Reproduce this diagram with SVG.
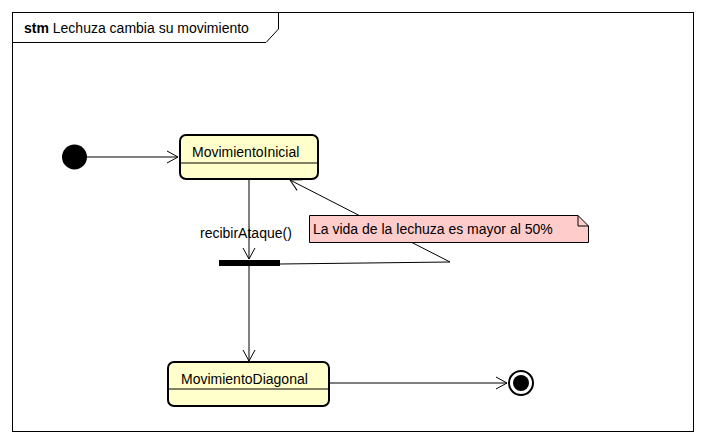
<svg xmlns="http://www.w3.org/2000/svg" width="706" height="444" viewBox="0 0 706 444">
<style>
text{font-family:"Liberation Sans",Arial,sans-serif;font-size:14px;fill:#000}
.st{fill:#ffffcc;stroke:#000;stroke-width:2}
.ln{stroke:#000;stroke-width:1;fill:none}
</style>
<defs>
<marker id="open" markerWidth="14" markerHeight="14" refX="12" refY="7" orient="auto" markerUnits="userSpaceOnUse">
<path d="M1,1 L12,7 L1,13" fill="none" stroke="#000" stroke-width="1"/>
</marker>
</defs>
<rect width="706" height="444" fill="#fff"/>
<g id="frame">
<rect x="12.5" y="12.5" width="681" height="419" fill="none" stroke="#000"/>
<path d="M12.5,42.5 H266 L278.5,29 V12.5" fill="none" stroke="#000"/>
<text x="24" y="33"><tspan font-weight="bold">stm</tspan> Lechuza cambia su movimiento</text>
</g>
<g id="connectors">
<line class="ln" x1="87" y1="157" x2="178" y2="157" marker-end="url(#open)"/>
<line class="ln" x1="249" y1="180" x2="249" y2="259" marker-end="url(#open)"/>
<line class="ln" x1="249" y1="266" x2="249" y2="361" marker-end="url(#open)"/>
<polyline class="ln" points="280,264 450,262 290,180" marker-end="url(#open)"/>
<line class="ln" x1="330" y1="383" x2="507" y2="383" marker-end="url(#open)"/>
<text x="200" y="238">recibirAtaque()</text>
</g>
<g id="initial">
<circle cx="74.5" cy="157" r="12.5" fill="#000"/>
</g>
<g id="movimientoInicial">
<rect class="st" x="180" y="135" width="138" height="44" rx="6"/>
<line class="ln" x1="180" y1="163" x2="318" y2="163"/>
<text x="192" y="157">MovimientoInicial</text>
</g>
<g id="fork">
<rect x="219" y="260" width="61" height="6" fill="#000"/>
</g>
<g id="note">
<path d="M309.5,215.5 H578 L588.5,226 V242.5 H309.5 Z" fill="#ffcccc" stroke="#000"/>
<path d="M578,215.5 V226 H588.5" fill="none" stroke="#000"/>
<text x="313" y="234">La vida de la lechuza es mayor al 50%</text>
</g>
<g id="movimientoDiagonal">
<rect class="st" x="168" y="362" width="161" height="44" rx="6"/>
<line class="ln" x1="168" y1="389" x2="329" y2="389"/>
<text x="181" y="384">MovimientoDiagonal</text>
</g>
<g id="final">
<circle cx="521" cy="383" r="12" fill="#fff" stroke="#000" stroke-width="2"/>
<circle cx="521" cy="383" r="8" fill="#000"/>
</g>
</svg>
